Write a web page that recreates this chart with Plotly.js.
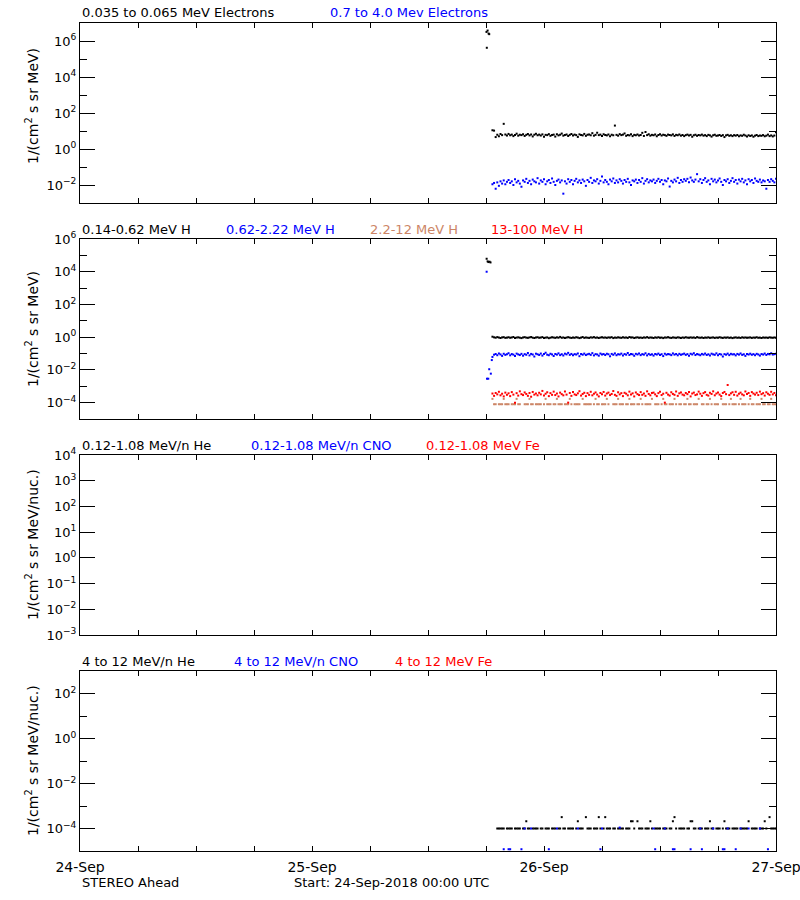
<!DOCTYPE html>
<html><head><meta charset="utf-8">
<script src="https://cdn.plot.ly/plotly-3.0.1.min.js"></script>
<style>html,body{margin:0;padding:0;background:#fff;}#chart{width:800px;height:900px;}</style>
</head><body><div id="chart"></div>
<script>
// ---------- DATA ----------
const xStart = '2018-09-24 00:00';
const xEnd = '2018-09-27 00:00';
const gridStart = '2018-09-25 18:40';   // first sample of the regular data stream
const gridStepMin = 10;                 // sample cadence (minutes)

// 0.035-0.065 MeV electrons (black) and 0.7-4.0 MeV electrons (blue)
const eLowBurstTimes = ['2018-09-25 18:03','2018-09-25 18:05','2018-09-25 18:10','2018-09-25 18:16','2018-09-25 18:20'];
const eLowBurstVals  = [3.2e6, 4.2e5, 3.8e6, 2.6e6, 2.4e6];
const eLow = [
 11,10.5,4.6,6.2,5.1,6.8,5.9,25,6.4,5.6,
 6.9,5.8,6.3,5.2,6.0,7.1,5.5,6.2,5.9,6.6,
 5.3,6.1,6.8,5.7,6.4,5.0,6.2,7.0,5.8,6.3,
 5.6,6.5,4.8,6.1,5.9,6.7,5.4,6.0,6.3,4.9,
 6.6,5.7,6.2,7.2,5.5,6.0,6.4,5.3,6.1,6.8,
 5.6,6.3,5.9,4.7,6.5,6.0,5.7,6.9,5.4,6.2,
 6.4,5.8,7.6,5.5,6.1,8.0,5.9,6.3,5.2,6.6,
 6.0,5.7,6.4,5.1,6.2,5.8,20,6.1,5.5,6.7,
 5.9,6.3,7.3,5.4,6.0,5.7,6.5,5.2,6.1,5.8,
 6.4,5.6,6.0,7.9,5.3,8.8,5.9,6.6,5.5,6.1,
 5.8,6.4,5.1,6.0,6.7,5.6,6.2,5.9,5.4,6.3,
 6.0,5.7,6.5,5.3,6.1,5.8,6.4,5.5,6.0,5.2,
 5.9,6.3,5.6,6.1,4.8,5.8,6.2,5.4,6.0,5.7,
 6.3,5.5,5.9,5.2,6.1,5.7,4.9,5.8,6.2,5.4,
 5.6,6.0,5.3,5.9,4.6,5.7,6.1,5.4,5.8,5.2,
 5.9,5.5,6.0,5.1,5.7,5.4,6.2,5.6,5.0,5.8,
 5.3,5.7,4.8,5.5,6.0,5.2,5.6,5.4,5.9,5.1,
 5.5,6.3,5.2,5.7,5.0,5.6,8.5];
const eHigh = [
 0.011,0.013,0.0062,0.014,0.009,0.016,0.012,0.018,0.011,0.015,
 0.019,0.013,0.016,0.010,0.021,0.014,0.017,0.012,0.008,0.018,
 0.015,0.022,0.013,0.017,0.011,0.020,0.016,0.014,0.024,0.012,
 0.018,0.015,0.021,0.011,0.016,0.019,0.013,0.023,0.015,0.010,
 0.017,0.020,0.014,0.018,0.0033,0.016,0.012,0.021,0.015,0.019,
 0.011,0.017,0.022,0.014,0.018,0.013,0.020,0.016,0.009,0.019,
 0.015,0.025,0.013,0.018,0.016,0.021,0.012,0.017,0.030,0.014,
 0.019,0.015,0.011,0.020,0.016,0.023,0.013,0.018,0.014,0.021,
 0.017,0.012,0.019,0.015,0.022,0.014,0.010,0.018,0.016,0.020,
 0.013,0.019,0.015,0.024,0.012,0.017,0.021,0.014,0.018,0.016,
 0.020,0.013,0.017,0.022,0.015,0.019,0.011,0.018,0.016,0.023,
 0.0082,0.017,0.014,0.020,0.016,0.025,0.013,0.019,0.015,0.021,
 0.017,0.022,0.014,0.026,0.018,0.015,0.020,0.040,0.016,0.021,
 0.013,0.019,0.024,0.015,0.018,0.011,0.022,0.016,0.020,0.014,
 0.018,0.023,0.015,0.010,0.019,0.016,0.021,0.013,0.017,0.024,
 0.015,0.019,0.012,0.020,0.016,0.022,0.014,0.018,0.011,0.021,
 0.016,0.019,0.013,0.023,0.017,0.015,0.020,0.014,0.018,0.016,
 0.0062,0.019,0.015,0.021,0.017,0.014,0.022];

// protons: 0.14-0.62 (black), 0.62-2.22 (blue), 2.2-12 (sienna), 13-100 MeV (red)
const h014BurstTimes = ['2018-09-25 18:04','2018-09-25 18:10','2018-09-25 18:15','2018-09-25 18:22','2018-09-25 18:28'];
const h014BurstVals  = [6.2e4, 4.3e4, 3.9e4, 4.1e4, 3.7e4];
const h062BurstTimes = ['2018-09-25 18:04','2018-09-25 18:06','2018-09-25 18:14','2018-09-25 18:20','2018-09-25 18:30','2018-09-25 18:36'];
const h062BurstVals  = [1.0e4, 2.9e-3, 2.9e-3, 1.1e-2, 5.9e-3, 4.0e-2];
const h014 = [
 1.07,0.98,0.93,1.01,0.95,0.89,0.97,1.00,0.91,0.94,
 0.99,0.92,0.96,1.03,0.90,0.95,0.98,0.93,0.88,0.96,
 1.00,0.94,0.91,0.97,1.02,0.93,0.89,0.96,0.99,0.92,
 0.95,1.01,0.90,0.94,0.97,0.87,0.93,0.99,0.95,0.91,
 0.98,0.93,1.04,0.92,0.96,0.89,0.95,1.00,0.94,0.90,
 0.97,0.92,0.99,0.95,0.88,0.94,1.02,0.91,0.96,0.93,
 0.90,0.98,0.94,1.01,0.92,0.96,0.89,0.95,0.99,0.93,
 0.96,0.91,0.97,0.94,1.00,0.88,0.95,0.92,0.98,0.94,
 0.91,0.99,0.93,0.96,0.90,1.02,0.94,0.97,0.89,0.95,
 0.98,0.92,0.95,0.90,0.97,0.93,1.01,0.91,0.96,0.94,
 0.89,0.97,0.93,0.99,0.92,0.95,0.88,0.96,0.94,1.00,
 0.93,0.90,0.97,0.94,0.91,0.98,0.95,0.89,0.96,0.92,
 0.99,0.94,0.91,0.97,0.93,0.96,0.90,1.01,0.94,0.92,
 0.96,0.89,0.95,0.93,0.98,0.91,0.94,0.97,0.90,0.95,
 0.92,0.99,0.94,0.90,0.96,0.93,0.97,0.91,0.95,0.88,
 0.94,0.97,0.92,0.95,0.90,0.98,0.93,0.96,0.91,0.94,
 0.97,0.90,0.95,0.93,0.99,0.92,0.94,0.89,0.96,0.93,
 0.95,0.91,0.98,0.94,0.92,0.96,0.93];
const h062 = [
 0.062,0.085,0.094,0.079,0.101,0.088,0.072,0.097,0.083,0.091,
 0.105,0.078,0.093,0.086,0.070,0.099,0.089,0.081,0.096,0.074,
 0.092,0.084,0.108,0.077,0.095,0.087,0.066,0.098,0.090,0.082,
 0.100,0.075,0.093,0.112,0.085,0.079,0.097,0.088,0.071,0.094,
 0.086,0.103,0.080,0.091,0.076,0.098,0.089,0.110,0.083,0.095,
 0.078,0.092,0.087,0.101,0.069,0.094,0.085,0.099,0.081,0.090,
 0.096,0.083,0.106,0.077,0.092,0.088,0.074,0.100,0.086,0.093,
 0.081,0.097,0.090,0.068,0.095,0.084,0.102,0.079,0.091,0.087,
 0.099,0.076,0.093,0.085,0.108,0.082,0.094,0.089,0.073,0.096,
 0.088,0.101,0.080,0.092,0.086,0.104,0.077,0.095,0.083,0.090,
 0.075,0.094,0.087,0.099,0.082,0.091,0.070,0.097,0.085,0.093,
 0.089,0.080,0.102,0.086,0.094,0.078,0.096,0.084,0.091,0.099,
 0.083,0.092,0.074,0.097,0.088,0.105,0.081,0.093,0.087,0.079,
 0.095,0.086,0.100,0.082,0.090,0.076,0.098,0.089,0.084,0.103,
 0.079,0.094,0.087,0.066,0.092,0.085,0.099,0.080,0.096,0.088,
 0.091,0.077,0.095,0.086,0.101,0.083,0.090,0.072,0.094,0.087,
 0.098,0.084,0.092,0.079,0.096,0.088,0.075,0.093,0.086,0.100,
 0.082,0.095,0.089,0.104,0.087,0.091,0.098];
const h22 = [
 1.7e-4,8e-5,8e-5,null,8e-5,8e-5,8e-5,1.7e-4,8e-5,8e-5,
 8e-5,null,8e-5,8e-5,8e-5,1.7e-4,8e-5,8e-5,null,null,
 8e-5,8e-5,8e-5,1.7e-4,8e-5,8e-5,null,8e-5,8e-5,8e-5,
 8e-5,null,8e-5,1.7e-4,8e-5,8e-5,8e-5,null,8e-5,8e-5,
 1.7e-4,8e-5,8e-5,8e-5,null,8e-5,8e-5,8e-5,1.7e-4,8e-5,
 null,8e-5,8e-5,8e-5,8e-5,null,1.7e-4,8e-5,8e-5,8e-5,
 8e-5,8e-5,null,8e-5,1.7e-4,8e-5,8e-5,null,8e-5,8e-5,
 8e-5,1.7e-4,8e-5,null,null,8e-5,8e-5,8e-5,1.7e-4,8e-5,
 8e-5,8e-5,null,8e-5,8e-5,1.7e-4,8e-5,8e-5,8e-5,null,
 8e-5,8e-5,1.7e-4,8e-5,null,8e-5,8e-5,8e-5,8e-5,1.7e-4,
 null,8e-5,8e-5,8e-5,null,8e-5,1.7e-4,8e-5,8e-5,null,
 8e-5,8e-5,8e-5,1.7e-4,8e-5,null,8e-5,8e-5,null,8e-5,
 8e-5,1.7e-4,8e-5,8e-5,null,8e-5,8e-5,8e-5,1.7e-4,null,
 8e-5,8e-5,null,8e-5,8e-5,1.7e-4,8e-5,null,8e-5,8e-5,
 8e-5,null,1.7e-4,8e-5,8e-5,8e-5,null,8e-5,1.7e-4,8e-5,
 8e-5,8e-5,null,8e-5,1.7e-4,8e-5,8e-5,8e-5,null,8e-5,
 1.7e-4,8e-5,8e-5,null,8e-5,8e-5,8e-5,1.7e-4,8e-5,8e-5,
 null,8e-5,8e-5,1.7e-4,8e-5,8e-5,8e-5];
const h13 = [
 3.6e-4,2.6e-4,3.9e-4,3.2e-4,4.6e-4,2.8e-4,3.5e-4,2.4e-4,4.1e-4,3.0e-4,
 3.7e-4,2.5e-4,4.4e-4,3.1e-4,1.0e-4,3.8e-4,2.7e-4,4.9e-4,3.3e-4,2.9e-4,
 4.2e-4,3.4e-4,2.6e-4,3.9e-4,2.3e-4,4.5e-4,3.1e-4,3.6e-4,2.8e-4,4.0e-4,
 3.2e-4,5.2e-4,2.7e-4,3.5e-4,4.3e-4,2.5e-4,3.8e-4,3.0e-4,4.7e-4,2.9e-4,
 3.6e-4,2.4e-4,4.1e-4,3.3e-4,2.8e-4,4.8e-4,3.1e-4,1.0e-4,3.9e-4,2.6e-4,
 4.4e-4,3.2e-4,2.9e-4,3.7e-4,5.0e-4,2.7e-4,3.4e-4,4.0e-4,2.5e-4,3.8e-4,
 3.0e-4,4.6e-4,2.8e-4,3.5e-4,4.2e-4,3.1e-4,2.4e-4,3.9e-4,3.3e-4,4.5e-4,
 2.7e-4,3.6e-4,4.1e-4,2.9e-4,3.4e-4,5.1e-4,3.0e-4,2.6e-4,4.3e-4,3.2e-4,
 3.8e-4,2.5e-4,4.0e-4,3.5e-4,2.8e-4,4.7e-4,3.1e-4,3.7e-4,2.4e-4,4.2e-4,
 3.3e-4,2.9e-4,4.4e-4,3.0e-4,3.6e-4,2.6e-4,4.9e-4,3.4e-4,2.8e-4,3.9e-4,
 4.1e-4,3.2e-4,2.5e-4,3.8e-4,4.6e-4,2.9e-4,3.5e-4,1.0e-4,4.0e-4,3.1e-4,
 2.7e-4,4.3e-4,3.4e-4,3.0e-4,4.8e-4,2.6e-4,3.7e-4,4.2e-4,3.1e-4,2.8e-4,
 3.9e-4,3.3e-4,4.5e-4,2.4e-4,3.6e-4,4.1e-4,2.9e-4,3.2e-4,4.7e-4,3.5e-4,
 2.6e-4,3.8e-4,4.4e-4,3.0e-4,2.7e-4,4.0e-4,3.4e-4,4.9e-4,2.8e-4,3.6e-4,
 4.2e-4,3.1e-4,2.5e-4,3.9e-4,4.5e-4,3.3e-4,1.2e-3,2.9e-4,3.7e-4,4.3e-4,
 3.0e-4,4.6e-4,2.7e-4,3.5e-4,4.1e-4,3.2e-4,2.8e-4,4.8e-4,3.4e-4,3.9e-4,
 2.6e-4,4.4e-4,3.6e-4,3.1e-4,4.0e-4,2.9e-4,4.7e-4,3.3e-4,3.8e-4,2.7e-4,
 4.3e-4,3.5e-4,3.0e-4,4.6e-4,3.2e-4,3.9e-4,2.8e-4];

// 0.12-1.08 MeV/n heavy ions: no data in this interval
const heLowTimes = [], heLowVals = [];
const cnoLowTimes = [], cnoLowVals = [];
const feLowTimes = [], feLowVals = [];

// 4-12 MeV/n He (black, on the regular grid) and CNO (blue, isolated samples)
const he4 = [
 null,null,null,1e-4,1e-4,1e-4,1e-4,1e-4,null,1e-4,
 1e-4,1e-4,1e-4,null,1e-4,1e-4,1e-4,1e-4,null,1e-4,
 1e-4,2.1e-4,1e-4,1e-4,null,1e-4,1e-4,1e-4,1e-4,null,
 1e-4,1e-4,null,1e-4,1e-4,1e-4,null,1e-4,1e-4,1e-4,
 null,1e-4,1e-4,3.2e-4,1e-4,1e-4,null,1e-4,1e-4,1e-4,
 1e-4,null,1e-4,2.1e-4,1e-4,1e-4,1e-4,null,3.2e-4,1e-4,
 1e-4,1e-4,null,1e-4,1e-4,1e-4,3.2e-4,1e-4,null,1e-4,
 3.2e-4,1e-4,1e-4,1e-4,null,1e-4,1e-4,null,1e-4,1e-4,
 1e-4,1e-4,null,1e-4,1e-4,1e-4,2.1e-4,2.1e-4,1e-4,null,
 2.1e-4,1e-4,1e-4,1e-4,null,1e-4,1e-4,1e-4,2.1e-4,1e-4,
 null,1e-4,1e-4,1e-4,1e-4,null,1e-4,1e-4,1e-4,null,
 1e-4,1e-4,2.1e-4,3.2e-4,1e-4,null,1e-4,1e-4,1e-4,1e-4,
 null,1e-4,1e-4,2.1e-4,2.1e-4,1e-4,1e-4,null,1e-4,1e-4,
 1e-4,null,1e-4,1e-4,1e-4,2.1e-4,1e-4,1e-4,null,1e-4,
 1e-4,1e-4,null,1e-4,2.1e-4,1e-4,1e-4,1e-4,null,1e-4,
 1e-4,1e-4,1e-4,null,1e-4,1e-4,1e-4,1e-4,1e-4,2.1e-4,
 null,1e-4,1e-4,1e-4,1e-4,null,1e-4,1e-4,1e-4,2.1e-4,
 1e-4,null,3.2e-4,1e-4,1e-4,1e-4,1e-4];
const cno4Times = [
 '2018-09-25 19:50','2018-09-25 20:20','2018-09-25 20:30','2018-09-25 21:40','2018-09-25 22:00',
 '2018-09-25 22:40','2018-09-26 00:30','2018-09-26 01:20','2018-09-26 03:30','2018-09-26 05:50',
 '2018-09-26 06:00','2018-09-26 07:50','2018-09-26 11:20','2018-09-26 11:30','2018-09-26 12:30',
 '2018-09-26 13:20','2018-09-26 13:30','2018-09-26 15:10','2018-09-26 16:10','2018-09-26 16:20',
 '2018-09-26 17:30','2018-09-26 18:30','2018-09-26 18:40','2018-09-26 19:00','2018-09-26 19:50',
 '2018-09-26 20:20','2018-09-26 21:10','2018-09-26 22:20','2018-09-26 23:10'];
const cno4Vals = [
 1.2e-5,1.2e-5,1.2e-5,1.2e-5,1e-4,
 1e-4,1.2e-5,1e-4,1e-4,1.2e-5,
 1e-4,1.1e-4,1e-4,1.2e-5,1e-4,
 1.2e-5,1.2e-5,1.2e-5,1e-4,1.2e-5,
 1e-4,1.2e-5,1.2e-5,1e-4,1.2e-5,
 1e-4,1e-4,1e-4,1.2e-5];

// tick labels
const xDayTicks = ['2018-09-24','2018-09-25','2018-09-26','2018-09-27'];
const xDayLabels = ['24-Sep','25-Sep','26-Sep','27-Sep'];
const p1TickVals = [1e-2,1,1e2,1e4,1e6];
const p1TickText = ['10<sup>−2</sup>','10<sup>0</sup>','10<sup>2</sup>','10<sup>4</sup>','10<sup>6</sup>'];
const p1Minor = [1e-3,1e-1,1e1,1e3,1e5,1e7];
const p2TickVals = [1e-4,1e-2,1,1e2,1e4,1e6];
const p2TickText = ['10<sup>−4</sup>','10<sup>−2</sup>','10<sup>0</sup>','10<sup>2</sup>','10<sup>4</sup>','10<sup>6</sup>'];
const p2Minor = [1e-5,1e-3,1e-1,1e1,1e3,1e5];
const p3TickVals = [1e-3,1e-2,1e-1,1,1e1,1e2,1e3,1e4];
const p3TickText = ['10<sup>−3</sup>','10<sup>−2</sup>','10<sup>−1</sup>','10<sup>0</sup>','10<sup>1</sup>','10<sup>2</sup>','10<sup>3</sup>','10<sup>4</sup>'];
const p4TickVals = [1e-4,1e-2,1,1e2];
const p4TickText = ['10<sup>−4</sup>','10<sup>−2</sup>','10<sup>0</sup>','10<sup>2</sup>'];
const p4Minor = [1e-5,1e-3,1e-1,1e1,1e3];

// ---------- BUILD ----------
function fmt(ms){const d=new Date(ms);const p=n=>String(n).padStart(2,'0');
  return d.getUTCFullYear()+'-'+p(d.getUTCMonth()+1)+'-'+p(d.getUTCDate())+' '+p(d.getUTCHours())+':'+p(d.getUTCMinutes());}
function parse(s){const m=s.match(/(\d+)-(\d+)-(\d+) (\d+):(\d+)/);return Date.UTC(+m[1],+m[2]-1,+m[3],+m[4],+m[5]);}
const g0 = parse(gridStart);
const gridTimes = eLow.map((_,i)=>fmt(g0+i*gridStepMin*60000));

const BLACK='#000000', BLUE='#0000ff', RED='#ff0000', SIENNA='#cc8566';
function dots(x,y,color,n,size){
  return {type:'scatter',mode:'markers',x:x,y:y,xaxis:'x'+(n===1?'':n),yaxis:'y'+(n===1?'':n),
    marker:{symbol:'square',size:size||2,color:color,line:{width:0}},hoverinfo:'skip',showlegend:false};
}
const traces = [
  dots(eLowBurstTimes.concat(gridTimes), eLowBurstVals.concat(eLow), BLACK, 1),
  dots(gridTimes, eHigh, BLUE, 1),
  dots(h014BurstTimes.concat(gridTimes), h014BurstVals.concat(h014), BLACK, 2),
  dots(h062BurstTimes.concat(gridTimes), h062BurstVals.concat(h062), BLUE, 2),
  dots(gridTimes, h22, SIENNA, 2),
  dots(gridTimes, h13, RED, 2),
  dots(heLowTimes, heLowVals, BLACK, 3),
  dots(cnoLowTimes, cnoLowVals, BLUE, 3),
  dots(feLowTimes, feLowVals, RED, 3),
  dots(gridTimes, he4, BLACK, 4),
  dots(cno4Times, cno4Vals, BLUE, 4)
];

const FONT='DejaVu Sans';
const L=80, R=776, TOP=23, BOT=851, PH=180;
const PW=R-L, H=BOT-TOP;
const px = x => (x-L)/PW;
const py = y => (BOT-y)/H;
function dom(top){return [py(top+PH), py(top)];}
const tops=[23,239,455,671];

function xAx(n, labels){
  return {type:'date', range:[xStart,xEnd], domain:[0,1], anchor:'y'+(n===1?'':n),
    showgrid:false, zeroline:false, showline:true, linecolor:'#000', linewidth:1, mirror:'ticks',
    ticks:'inside', ticklen:5, tickwidth:1, tickcolor:'#000',
    tickmode:'array', tickvals:xDayTicks, ticktext:xDayLabels, showticklabels:labels,
    ticklabeloverflow:'allow', ticklabelstandoff:3,
    tickfont:{family:FONT,size:14,color:'#000'},
    minor:{dtick:6*3600000, tick0:'2018-09-24', ticks:'inside', ticklen:5, tickwidth:1, tickcolor:'#000'},
    fixedrange:true};
}
function yAx(n, range, tv, tt, minor, top){
  const a = {type:'log', range:range, domain:dom(top), anchor:'x'+(n===1?'':n),
    showgrid:false, zeroline:false, showline:true, linecolor:'#000', linewidth:1, mirror:'ticks',
    ticks:'inside', ticklen:15, tickwidth:1, tickcolor:'#000',
    tickmode:'array', tickvals:tv, ticktext:tt, tickfont:{family:FONT,size:13,color:'#000'},
    ticklabeloverflow:'allow', fixedrange:true};
  if(minor) a.minor = {tickmode:'array', tickvals:minor, ticks:'inside', ticklen:7, tickwidth:1, tickcolor:'#000'};
  return a;
}

function lab(text, x, y, color){
  return {xref:'paper',yref:'paper',x:px(x),y:py(y),xanchor:'left',yanchor:'middle',showarrow:false,
    text:text,font:{family:FONT,size:13,color:color}};
}
function ytitle(text, yc){
  return {xref:'paper',yref:'paper',x:px(32),y:py(yc),xanchor:'center',yanchor:'middle',showarrow:false,
    textangle:-90,text:text,font:{family:FONT,size:14,color:'#000'}};
}
const annotations = [
  lab('0.035 to 0.065 MeV Electrons',80,13,BLACK),
  lab('0.7 to 4.0 Mev Electrons',328,13,BLUE),
  lab('0.14-0.62 MeV H',80,229,BLACK),
  lab('0.62-2.22 MeV H',224,229,BLUE),
  lab('2.2-12 MeV H',368,229,SIENNA),
  lab('13-100 MeV H',489,229,RED),
  lab('0.12-1.08 MeV/n He',80,445,BLACK),
  lab('0.12-1.08 MeV/n CNO',249,445,BLUE),
  lab('0.12-1.08 MeV Fe',424,445,RED),
  lab('4 to 12 MeV/n He',80,661,BLACK),
  lab('4 to 12 MeV/n CNO',232,661,BLUE),
  lab('4 to 12 MeV Fe',393,661,RED),
  ytitle('1/(cm<sup>2</sup> s sr MeV)',106),
  ytitle('1/(cm<sup>2</sup> s sr MeV)',329),
  ytitle('1/(cm<sup>2</sup> s sr MeV/nuc.)',545),
  ytitle('1/(cm<sup>2</sup> s sr MeV/nuc.)',761),
  lab('STEREO Ahead',80,882,BLACK),
  lab('Start: 24-Sep-2018 00:00 UTC',292,882,BLACK)
];

const layout = {
  width:800, height:900, margin:{l:L, r:800-R, t:TOP, b:900-BOT, pad:0},
  paper_bgcolor:'#fff', plot_bgcolor:'#fff', showlegend:false,
  font:{family:FONT,size:13,color:'#000'},
  xaxis:xAx(1,false), xaxis2:xAx(2,false), xaxis3:xAx(3,false), xaxis4:xAx(4,true),
  yaxis:yAx(1,[-3,7],p1TickVals,p1TickText,p1Minor,tops[0]),
  yaxis2:yAx(2,[-5,6],p2TickVals,p2TickText,p2Minor,tops[1]),
  yaxis3:yAx(3,[-3,4],p3TickVals,p3TickText,null,tops[2]),
  yaxis4:yAx(4,[-5,3],p4TickVals,p4TickText,p4Minor,tops[3]),
  annotations:annotations
};
Plotly.newPlot('chart', traces, layout, {displayModeBar:false, staticPlot:true});
</script>
</body></html>
